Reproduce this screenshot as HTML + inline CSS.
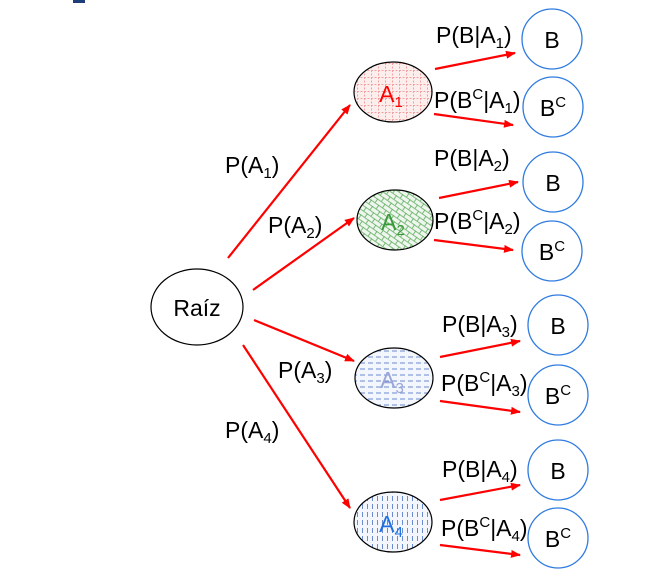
<!DOCTYPE html>
<html><head><meta charset="utf-8"><style>
html,body{margin:0;padding:0;background:#fff;}
svg{display:block;font-family:"Liberation Sans",Arial,sans-serif;}
</style></head><body>
<svg width="648" height="577" viewBox="0 0 648 577" xmlns="http://www.w3.org/2000/svg">
<defs>
<marker id="ah" markerWidth="10" markerHeight="8" refX="9" refY="4" orient="auto" markerUnits="userSpaceOnUse">
<path d="M0,0 L10,4 L0,8 z" fill="#f00"/></marker>
<pattern id="p1" width="7" height="7" patternUnits="userSpaceOnUse">
<rect width="7" height="7" fill="#fdeeee"/>
<path d="M0,0.5H7M0.5,0V7" stroke="#f4a0a0" stroke-width="1" stroke-dasharray="2,1.5"/></pattern>
<pattern id="p2" width="9" height="9" patternUnits="userSpaceOnUse" patternTransform="rotate(35)">
<rect width="9" height="9" fill="#eef6ee"/>
<path d="M0,0.5H9M0.5,0V4.5M5,4.5V9M0,5H9" stroke="#5aaa5a" stroke-width="0.8"/></pattern>
<pattern id="p3" width="8" height="6" patternUnits="userSpaceOnUse">
<rect width="8" height="6" fill="#f3f6fc"/>
<path d="M0,3H5" stroke="#5a7fcc" stroke-width="0.9"/></pattern>
<pattern id="p4" width="5" height="8" patternUnits="userSpaceOnUse">
<rect width="5" height="8" fill="#f3f6fc"/>
<path d="M2.5,0V5" stroke="#5a7fcc" stroke-width="0.9"/></pattern>
</defs>
<rect x="73" y="0" width="12" height="3" fill="#1f3d7a"/>
<g stroke="#f00" stroke-width="2.2" marker-end="url(#ah)">
<line x1="228" y1="258" x2="350" y2="105"/>
<line x1="253" y1="290" x2="354" y2="218"/>
<line x1="254" y1="320" x2="354" y2="361"/>
<line x1="243" y1="345" x2="350" y2="508"/>
<line x1="435" y1="69" x2="515" y2="53"/>
<line x1="434" y1="114" x2="513" y2="125"/>
<line x1="439" y1="198" x2="518" y2="182"/>
<line x1="434" y1="240" x2="513" y2="250"/>
<line x1="440" y1="357" x2="520" y2="341"/>
<line x1="440" y1="401" x2="520" y2="412"/>
<line x1="440" y1="500" x2="520" y2="485"/>
<line x1="440" y1="545" x2="520" y2="555"/>
</g>
<ellipse cx="197" cy="307" rx="46" ry="38" fill="#fff" stroke="#000" stroke-width="1.2"/>
<text x="197" y="316" font-size="23" text-anchor="middle">Raíz</text>
<ellipse cx="393" cy="92" rx="39" ry="30" fill="url(#p1)" stroke="#000" stroke-width="1.2"/>
<ellipse cx="395" cy="220" rx="38" ry="30" fill="url(#p2)" stroke="#000" stroke-width="1.2"/>
<ellipse cx="394" cy="378" rx="39" ry="30" fill="url(#p3)" stroke="#000" stroke-width="1.2"/>
<ellipse cx="393" cy="522" rx="39" ry="30" fill="url(#p4)" stroke="#000" stroke-width="1.2"/>
<g font-size="23" text-anchor="middle">
<text x="391" y="102" fill="#f00">A<tspan font-size="15" dy="5">1</tspan></text>
<text x="393" y="230" fill="#3a9a3a">A<tspan font-size="15" dy="5">2</tspan></text>
<text x="392" y="388" fill="#9aa6d8">A<tspan font-size="15" dy="5">3</tspan></text>
<text x="391" y="532" fill="#1e6fe0">A<tspan font-size="15" dy="5">4</tspan></text>
</g>
<g fill="#fff" stroke="#2f7be0" stroke-width="1.3">
<circle cx="552" cy="39" r="30"/><circle cx="553" cy="107" r="30"/>
<circle cx="553" cy="182" r="30"/><circle cx="552" cy="251" r="30"/>
<circle cx="558" cy="325" r="30"/><circle cx="558" cy="395" r="30"/>
<circle cx="558" cy="470" r="30"/><circle cx="558" cy="538" r="30"/>
</g>
<g font-size="23" text-anchor="middle">
<text x="552" y="48">B</text><text x="553" y="116">B<tspan font-size="15" dy="-9">C</tspan></text>
<text x="553" y="191">B</text><text x="552" y="260">B<tspan font-size="15" dy="-9">C</tspan></text>
<text x="558" y="334">B</text><text x="558" y="404">B<tspan font-size="15" dy="-9">C</tspan></text>
<text x="558" y="479">B</text><text x="558" y="547">B<tspan font-size="15" dy="-9">C</tspan></text>
</g>
<g font-size="23">
<text x="225" y="173">P(A<tspan font-size="15" dy="5">1</tspan><tspan dy="-5">)</tspan></text>
<text x="268" y="233">P(A<tspan font-size="15" dy="5">2</tspan><tspan dy="-5">)</tspan></text>
<text x="278" y="378">P(A<tspan font-size="15" dy="5">3</tspan><tspan dy="-5">)</tspan></text>
<text x="225" y="438">P(A<tspan font-size="15" dy="5">4</tspan><tspan dy="-5">)</tspan></text>
<text x="436" y="43">P(B|A<tspan font-size="15" dy="5">1</tspan><tspan dy="-5">)</tspan></text>
<text x="434" y="108">P(B<tspan font-size="15" dy="-9">C</tspan><tspan dy="9">|A</tspan><tspan font-size="15" dy="5">1</tspan><tspan dy="-5">)</tspan></text>
<text x="434" y="166">P(B|A<tspan font-size="15" dy="5">2</tspan><tspan dy="-5">)</tspan></text>
<text x="434" y="229">P(B<tspan font-size="15" dy="-9">C</tspan><tspan dy="9">|A</tspan><tspan font-size="15" dy="5">2</tspan><tspan dy="-5">)</tspan></text>
<text x="442" y="332">P(B|A<tspan font-size="15" dy="5">3</tspan><tspan dy="-5">)</tspan></text>
<text x="441" y="391">P(B<tspan font-size="15" dy="-9">C</tspan><tspan dy="9">|A</tspan><tspan font-size="15" dy="5">3</tspan><tspan dy="-5">)</tspan></text>
<text x="442" y="477">P(B|A<tspan font-size="15" dy="5">4</tspan><tspan dy="-5">)</tspan></text>
<text x="441" y="536">P(B<tspan font-size="15" dy="-9">C</tspan><tspan dy="9">|A</tspan><tspan font-size="15" dy="5">4</tspan><tspan dy="-5">)</tspan></text>
</g>
</svg>
</body></html>
